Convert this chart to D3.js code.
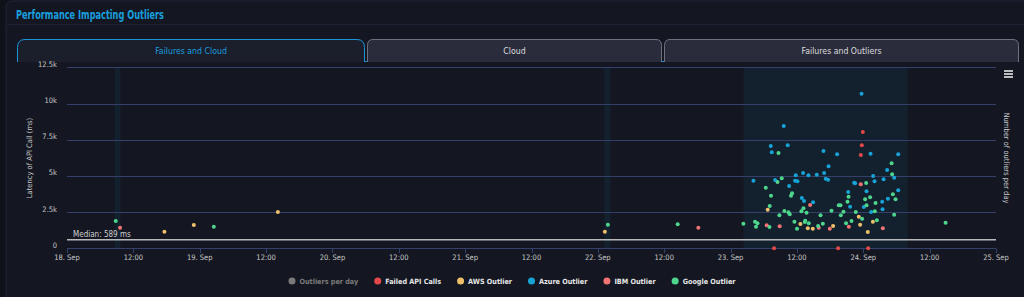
<!DOCTYPE html>
<html>
<head>
<meta charset="utf-8">
<script src="https://cdn.jsdelivr.net/npm/d3@7"></script>
<style>
  html, body { margin: 0; padding: 0; background: #10121a; }
  svg { display: block; }
  text { font-family: "Liberation Sans Narrow", "DejaVu Sans Condensed", "Open Sans", sans-serif; }
</style>
</head>
<body>
<svg id="chart" width="1024" height="297"></svg>
<script>
// ---------------- DATA ----------------
const title = "Performance Impacting Outliers";
const tabs = ["Failures and Cloud", "Cloud", "Failures and Outliers"];
const yTicks = [0, 2500, 5000, 7500, 10000, 12500];
const yTickLabels = ["0", "2.5k", "5k", "7.5k", "10k", "12.5k"];
const xStart = "2023-09-18 00:00";
const xEnd = "2023-09-25 00:00";
const yAxisTitle = "Latency of API Call (ms)";
const y2AxisTitle = "Number of outliers per day";
const medianValue = 589;
const medianLabel = "Median: 589 ms";
const plotBands = [
  ["2023-09-18 08:40", "2023-09-18 09:40"],
  ["2023-09-22 01:10", "2023-09-22 02:15"],
  ["2023-09-23 02:20", "2023-09-24 08:00"]
];
const legendNames = ["Outliers per day", "Failed API Calls", "AWS Outlier", "Azure Outlier", "IBM Outlier", "Google Outlier"];

const failedApiCalls = [
  ["2023-09-23 23:55", 8030], ["2023-09-23 23:44", 7110], ["2023-09-23 23:33", 6440],
  ["2023-09-23 07:52", 0], ["2023-09-23 19:27", 0], ["2023-09-24 00:53", 0]
];
const awsOutlier = [
  ["2023-09-18 17:37", 1150], ["2023-09-18 22:56", 1610], ["2023-09-19 14:08", 2500],
  ["2023-09-22 01:16", 1150], ["2023-09-23 06:43", 2670], ["2023-09-23 12:38", 1680],
  ["2023-09-23 13:58", 1380], ["2023-09-23 14:52", 1350], ["2023-09-23 18:32", 1540],
  ["2023-09-23 23:11", 2180], ["2023-09-23 23:26", 1630], ["2023-09-24 00:49", 1130],
  ["2023-09-24 01:44", 1840]
];
const azureOutlier = [
  ["2023-09-23 04:08", 4670], ["2023-09-23 07:16", 7070], ["2023-09-23 07:27", 6630],
  ["2023-09-23 09:37", 8450], ["2023-09-23 10:20", 7110], ["2023-09-23 08:03", 4720],
  ["2023-09-23 10:35", 4300], ["2023-09-23 11:47", 5040], ["2023-09-23 11:40", 4670],
  ["2023-09-23 12:06", 4630], ["2023-09-23 13:07", 5200], ["2023-09-23 14:05", 5040],
  ["2023-09-23 12:53", 3470], ["2023-09-23 13:17", 3270], ["2023-09-23 14:55", 3180],
  ["2023-09-23 15:35", 5080], ["2023-09-23 16:48", 6720], ["2023-09-23 17:43", 5660],
  ["2023-09-23 16:55", 5200], ["2023-09-23 17:13", 4810], ["2023-09-23 17:38", 4740],
  ["2023-09-23 19:16", 6490], ["2023-09-23 21:16", 3890], ["2023-09-23 21:37", 2870],
  ["2023-09-23 22:21", 4530], ["2023-09-23 22:31", 4490], ["2023-09-23 23:41", 10680],
  ["2023-09-24 00:35", 3940], ["2023-09-24 00:06", 2850], ["2023-09-24 01:19", 6530],
  ["2023-09-24 01:47", 4990], ["2023-09-24 02:02", 4630], ["2023-09-24 01:25", 2510],
  ["2023-09-24 03:25", 3220], ["2023-09-24 03:29", 2690], ["2023-09-24 03:40", 4770],
  ["2023-09-24 04:19", 5410], ["2023-09-24 05:35", 4880], ["2023-09-24 04:27", 3430],
  ["2023-09-24 06:19", 6490], ["2023-09-24 06:19", 4010]
];
const ibmOutlier = [
  ["2023-09-18 09:36", 1420], ["2023-09-22 18:10", 1420], ["2023-09-23 06:32", 1590],
  ["2023-09-23 08:53", 1520], ["2023-09-23 14:23", 2990], ["2023-09-23 15:57", 1420],
  ["2023-09-23 17:57", 1350], ["2023-09-23 21:23", 1490], ["2023-09-23 23:33", 4420],
  ["2023-09-24 03:32", 1380]
];
const googleOutlier = [
  ["2023-09-18 08:49", 1890], ["2023-09-19 02:33", 1490], ["2023-09-22 01:49", 1630],
  ["2023-09-22 14:26", 1660], ["2023-09-23 02:19", 1700], ["2023-09-23 04:25", 1840],
  ["2023-09-23 04:52", 1730], ["2023-09-23 04:36", 1490], ["2023-09-23 08:40", 6580],
  ["2023-09-23 06:22", 4190], ["2023-09-23 08:29", 4580], ["2023-09-23 09:15", 4830],
  ["2023-09-23 07:19", 3630], ["2023-09-23 07:05", 2920], ["2023-09-23 08:50", 2280],
  ["2023-09-23 07:02", 1470], ["2023-09-23 09:44", 2580], ["2023-09-23 10:28", 2490],
  ["2023-09-23 10:42", 2350], ["2023-09-23 10:56", 3630], ["2023-09-23 11:07", 3800],
  ["2023-09-23 13:11", 2760], ["2023-09-23 12:49", 2560], ["2023-09-23 13:44", 2460],
  ["2023-09-23 11:33", 1840], ["2023-09-23 13:25", 1820], ["2023-09-23 13:30", 1910],
  ["2023-09-23 14:08", 1730], ["2023-09-23 12:01", 1350], ["2023-09-23 16:16", 2280],
  ["2023-09-23 16:41", 1700], ["2023-09-23 15:50", 1540], ["2023-09-23 18:15", 2600],
  ["2023-09-23 19:34", 2970], ["2023-09-23 19:53", 2970], ["2023-09-23 19:56", 2280],
  ["2023-09-23 20:25", 2530], ["2023-09-23 20:53", 1730], ["2023-09-23 21:52", 1890],
  ["2023-09-23 21:20", 3560], ["2023-09-23 21:09", 3220], ["2023-09-23 22:39", 2510],
  ["2023-09-23 23:47", 2040], ["2023-09-24 00:31", 4510], ["2023-09-24 00:20", 3380],
  ["2023-09-24 00:35", 2970], ["2023-09-24 01:14", 3520], ["2023-09-24 02:05", 2560],
  ["2023-09-24 02:13", 3130], ["2023-09-24 02:27", 1930], ["2023-09-24 05:07", 5870],
  ["2023-09-24 05:13", 5110], ["2023-09-24 05:21", 3730], ["2023-09-24 05:50", 3380],
  ["2023-09-24 05:35", 2320], ["2023-09-24 14:53", 1770]
];

// ---------------- STYLE ----------------
const colors = {
  "Outliers per day": "#7a7a7a",
  "Failed API Calls": "#e5484a",
  "AWS Outlier": "#efc06a",
  "Azure Outlier": "#17a3d6",
  "IBM Outlier": "#f47373",
  "Google Outlier": "#4fd68d"
};
const seriesList = [
  { name: "Failed API Calls", data: failedApiCalls },
  { name: "AWS Outlier", data: awsOutlier },
  { name: "Azure Outlier", data: azureOutlier },
  { name: "IBM Outlier", data: ibmOutlier },
  { name: "Google Outlier", data: googleOutlier }
];

const parse = d3.timeParse("%Y-%m-%d %H:%M");
const svg = d3.select("#chart");

// panel
svg.append("rect").attr("x", 6).attr("y", 1).attr("width", 1040).attr("height", 310)
  .attr("rx", 6).attr("fill", "#141721").attr("stroke", "#22253a");
svg.append("line").attr("x1", 7).attr("x2", 1024).attr("y1", 24.5).attr("y2", 24.5)
  .attr("stroke", "#1e2133");
svg.append("text").attr("x", 16).attr("y", 18.5).text(title)
  .attr("font-size", 11.5).attr("font-weight", 600).attr("fill", "#1a9fde")
  .attr("textLength", 148).attr("lengthAdjust", "spacingAndGlyphs");

// tabs
const tabExt = [[17, 365], [367, 662], [664, 1019]];
const tabTop = 39.5, tabBottom = 62;
svg.append("line").attr("x1", 17).attr("x2", 1019).attr("y1", tabBottom - 0.5).attr("y2", tabBottom - 0.5)
  .attr("stroke", "#1a8fd0");
tabs.forEach((t, i) => {
  const [x0, x1] = tabExt[i];
  const r = i === 0 ? 8 : 6;
  const p = `M${x0 + 0.5},${tabBottom} V${tabTop + r} Q${x0 + 0.5},${tabTop} ${x0 + r},${tabTop} H${x1 - r} Q${x1 - 0.5},${tabTop} ${x1 - 0.5},${tabTop + r} V${tabBottom}`;
  svg.append("path").attr("d", p)
    .attr("fill", i === 0 ? "#1b1e2b" : "#2a2c3c")
    .attr("stroke", i === 0 ? "#1a95d8" : "#6e7080").attr("stroke-width", 1);
  svg.append("text").attr("x", (x0 + x1) / 2).attr("y", 54).attr("text-anchor", "middle")
    .attr("font-size", 8.7).attr("fill", i === 0 ? "#1a9fde" : "#dcdcdc").text(t);
});

// scales
const x = d3.scaleTime().domain([parse(xStart), parse(xEnd)]).range([67, 996]);
const y = d3.scaleLinear().domain([0, 12500]).range([248.3, 67.3]);

// plot bands
svg.append("g").selectAll("rect").data(plotBands).join("rect")
  .attr("x", d => x(parse(d[0]))).attr("width", d => x(parse(d[1])) - x(parse(d[0])))
  .attr("y", y(12500)).attr("height", y(0) - y(12500))
  .attr("fill", "#13212f");

// gridlines
svg.append("g").selectAll("line").data(yTicks).join("line")
  .attr("x1", 67).attr("x2", 996)
  .attr("y1", d => Math.round(y(d)) + 0.5).attr("y2", d => Math.round(y(d)) + 0.5)
  .attr("stroke", "#34406a").attr("stroke-width", 1.2);

// y labels
svg.append("g").selectAll("text").data(yTicks).join("text")
  .attr("x", 57).attr("y", d => y(d) - 0.5).attr("text-anchor", "end")
  .attr("font-size", 7.5).attr("fill", "#c8c8c8").text((d, i) => yTickLabels[i]);

// x axis
const xTicks = d3.timeHour.every(12).range(parse(xStart), d3.timeHour.offset(parse(xEnd), 1));
const xFmt = d => d.getHours() === 0 ? d3.timeFormat("%-d. %b")(d) : d3.timeFormat("%H:%M")(d);
svg.append("g").selectAll("line").data(xTicks).join("line")
  .attr("x1", d => Math.round(x(d)) + 0.5).attr("x2", d => Math.round(x(d)) + 0.5)
  .attr("y1", 248.5).attr("y2", 253).attr("stroke", "#34406a");
svg.append("g").selectAll("text").data(xTicks).join("text")
  .attr("x", d => x(d)).attr("y", 260).attr("text-anchor", "middle")
  .attr("font-size", 7.5).attr("fill", "#c8c8c8").text(xFmt);

// median line
svg.append("line").attr("x1", 67).attr("x2", 996)
  .attr("y1", y(medianValue)).attr("y2", y(medianValue))
  .attr("stroke", "#b9b9b9").attr("stroke-width", 1.5);
svg.append("text").attr("x", 73).attr("y", y(medianValue) - 3)
  .attr("font-size", 8).attr("fill", "#cfcfcf").text(medianLabel);

// axis titles
svg.append("text").attr("transform", `translate(32,158) rotate(-90)`)
  .attr("text-anchor", "middle").attr("font-size", 7.5).attr("fill", "#c8c8c8").text(yAxisTitle);
svg.append("text").attr("transform", `translate(1004,158) rotate(90)`)
  .attr("text-anchor", "middle").attr("font-size", 7.5).attr("fill", "#c8c8c8").text(y2AxisTitle);

// menu icon
[71, 74, 77].forEach(yy => svg.append("line").attr("x1", 1004).attr("x2", 1013)
  .attr("y1", yy).attr("y2", yy).attr("stroke", "#e6e6e6").attr("stroke-width", 1.6));

// points
seriesList.forEach(s => {
  svg.append("g").selectAll("circle").data(s.data).join("circle")
    .attr("cx", d => x(parse(d[0]))).attr("cy", d => y(d[1]))
    .attr("r", 2).attr("fill", colors[s.name]);
});

// legend
const lg = svg.append("g");
let cx = 0;
legendNames.forEach((n, i) => {
  const g = lg.append("g").attr("transform", `translate(${cx},0)`);
  g.append("circle").attr("cx", 3.5).attr("cy", 0).attr("r", 3.5)
    .attr("fill", colors[n]);
  const t = g.append("text").attr("x", 11).attr("y", 2.7).attr("font-size", 7.2)
    .attr("font-weight", 700).attr("fill", i === 0 ? "#7a7a7a" : "#e6e6e6").text(n);
  cx += 11 + t.node().getComputedTextLength() + 16;
});
const lw = cx - 16;
lg.attr("transform", `translate(${512 - lw / 2},281)`);
</script>
</body>
</html>
